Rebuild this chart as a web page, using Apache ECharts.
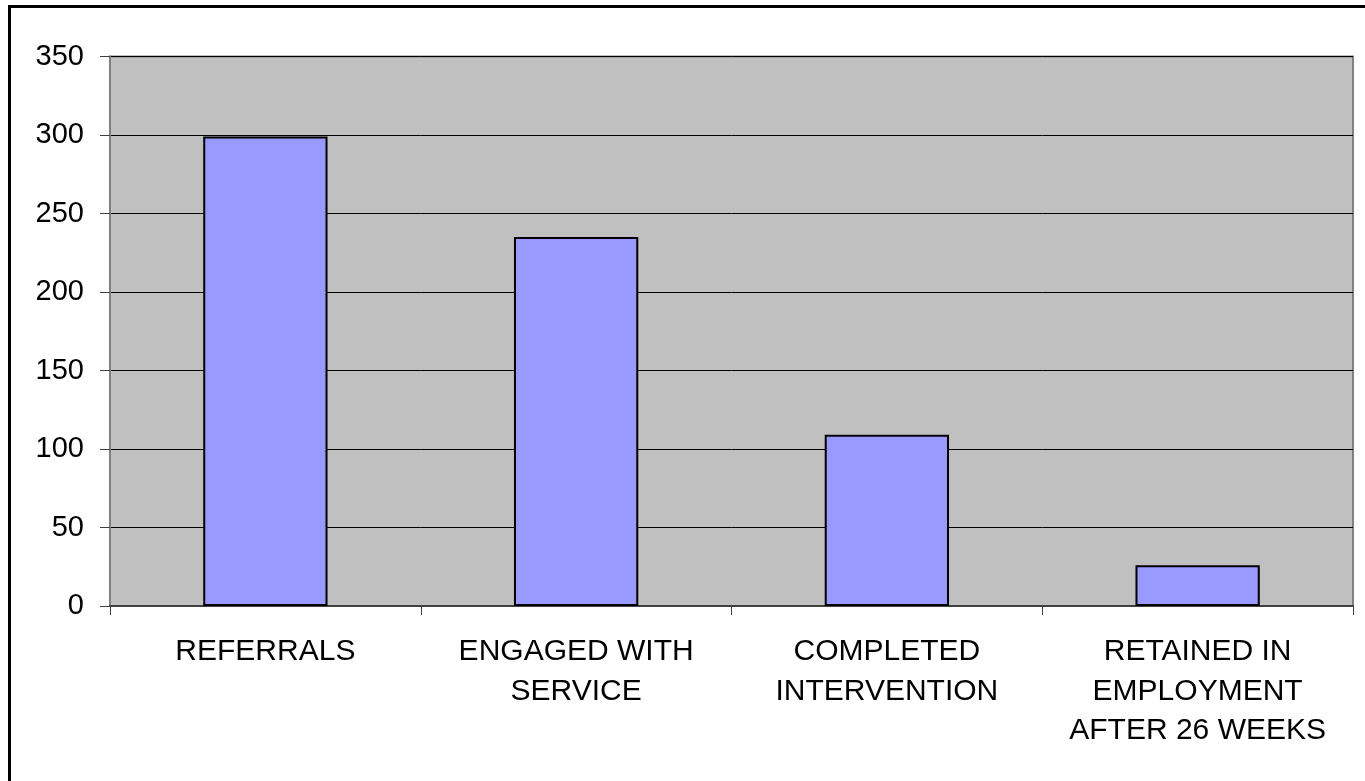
<!DOCTYPE html>
<html>
<head>
<meta charset="utf-8">
<script src="https://cdn.jsdelivr.net/npm/echarts@6/dist/echarts.min.js"></script>
<style>
html,body{margin:0;padding:0;background:#fff;}
#c{width:1365px;height:781px;}
</style>
</head>
<body>
<div id="c"></div>
<script>
const categories = ['REFERRALS', 'ENGAGED WITH\nSERVICE', 'COMPLETED\nINTERVENTION', 'RETAINED IN\nEMPLOYMENT\nAFTER 26 WEEKS'];
const values = [299, 235, 109, 26];
const yTicks = [0, 50, 100, 150, 200, 250, 300, 350];

const chart = echarts.init(document.getElementById('c'), null, {renderer: 'canvas'});
chart.setOption({
  animation: false,
  backgroundColor: '#ffffff',
  graphic: [{
    type: 'rect', z: 100, silent: true,
    shape: {x: 9.5, y: 6.5, width: 1400, height: 800},
    style: {fill: 'none', stroke: '#000', lineWidth: 3}
  }],
  grid: {
    left: 110, right: 12, top: 56.5, bottom: 175,
    show: true, backgroundColor: '#C0C0C0', borderColor: '#808080', borderWidth: 2
  },
  xAxis: {
    type: 'category',
    data: categories,
    boundaryGap: true,
    axisLine: {show: true, lineStyle: {color: '#404040', width: 2}},
    axisTick: {show: true, interval: 0, length: 9, lineStyle: {color: '#404040', width: 1}},
    axisLabel: {
      interval: 0, margin: 26, color: '#000',
      fontFamily: 'Liberation Sans, Arial, sans-serif', fontSize: 30, lineHeight: 39.5
    },
    splitLine: {show: false}
  },
  yAxis: {
    type: 'value',
    min: yTicks[0], max: yTicks[yTicks.length - 1], interval: 50,
    axisLine: {show: true, lineStyle: {color: '#808080', width: 2}},
    axisTick: {show: true, inside: false, length: 10, lineStyle: {color: '#404040', width: 1}},
    axisLabel: {
      margin: 26, color: '#000',
      fontFamily: 'Liberation Sans, Arial, sans-serif', fontSize: 29
    },
    splitLine: {show: true, lineStyle: {color: '#000', width: 1}}
  },
  series: [{
    type: 'bar',
    data: values,
    barWidth: '40%',
    itemStyle: {color: '#9999FF', borderColor: '#000', borderWidth: 2}
  }]
});
</script>
</body>
</html>
